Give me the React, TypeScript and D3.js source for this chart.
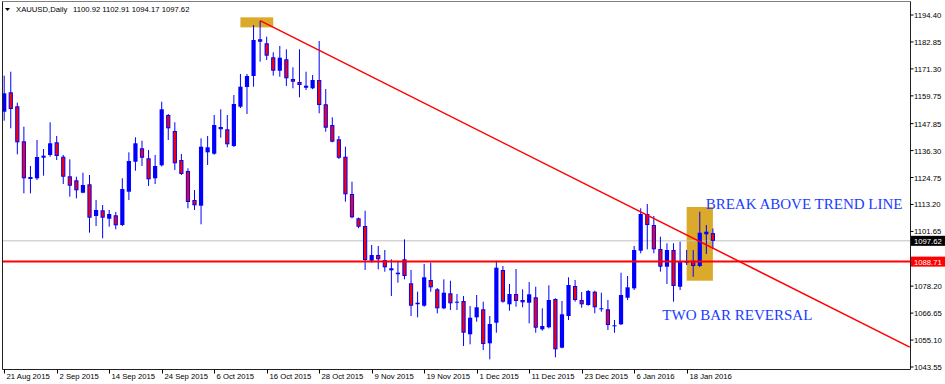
import React from "react";
import * as d3 from "d3";

const opens = [1152.96,1161.27,1155.27,1140.27,1124.97,1124.42,1133.24,1134.40,1139.84,1133.67,1125.27,1123.56,1118.24,1121.84,1108.26,1110.70,1107.10,1108.56,1104.40,1118.67,1131.53,1137.27,1132.99,1124.42,1129.99,1151.54,1144.69,1132.26,1127.54,1115.12,1112.67,1135.56,1134.96,1146.40,1145.42,1138.26,1155.10,1163.54,1168.26,1183.99,1182.27,1176.27,1170.53,1175.42,1166.97,1165.69,1164.10,1162.99,1166.54,1156.13,1147.26,1141.13,1133.67,1117.69,1107.27,1103.97,1089.10,1091.54,1089.40,1085.84,1083.96,1089.70,1079.42,1071.10,1069.82,1080.83,1076.84,1068.70,1075.13,1071.10,1071.83,1057.56,1064.84,1068.27,1053.70,1062.53,1085.12,1070.42,1074.83,1072.26,1071.10,1073.42,1059.70,1060.56,1072.69,1051.82,1065.40,1078.26,1072.26,1070.12,1075.82,1068.27,1068.27,1060.99,1061.84,1073.24,1077.27,1093.39,1109.12,1104.40,1094.12,1086.53,1093.69,1077.96,1088.24,1089.10,1086.83,1100.42,1100.92];
const highs = [1168.39,1170.10,1156.82,1146.53,1129.69,1140.83,1136.97,1148.42,1142.54,1134.40,1132.56,1125.10,1126.82,1125.83,1115.12,1112.97,1110.83,1109.97,1124.42,1135.56,1141.99,1140.53,1136.54,1134.40,1157.24,1151.97,1148.42,1134.83,1128.70,1119.40,1141.56,1142.54,1151.54,1153.99,1151.54,1160.12,1169.12,1169.12,1190.12,1191.96,1185.10,1178.42,1181.12,1179.70,1171.99,1179.70,1170.10,1168.69,1183.26,1162.69,1150.56,1142.54,1137.96,1122.96,1107.60,1110.53,1095.83,1095.40,1093.69,1089.70,1088.67,1098.27,1085.12,1075.82,1087.69,1088.24,1077.40,1081.13,1080.53,1074.83,1073.97,1069.69,1074.40,1071.53,1065.40,1089.10,1086.83,1079.12,1085.54,1076.84,1079.97,1077.96,1068.70,1078.56,1072.99,1071.83,1081.99,1080.83,1075.69,1076.54,1076.24,1075.39,1072.26,1063.69,1083.96,1082.54,1095.40,1111.56,1113.40,1108.26,1099.39,1096.56,1096.56,1097.24,1093.69,1093.69,1110.10,1104.40,1102.91];
const lows = [1149.10,1145.84,1134.70,1117.99,1117.99,1123.69,1125.53,1133.67,1132.26,1121.97,1116.53,1115.84,1117.99,1101.10,1103.97,1098.70,1103.67,1102.56,1103.97,1115.12,1127.67,1129.69,1121.12,1121.97,1129.50,1140.83,1127.97,1125.83,1111.56,1110.83,1104.70,1130.12,1134.50,1141.82,1137.70,1137.80,1154.54,1151.97,1163.67,1174.39,1175.12,1168.39,1167.96,1163.97,1162.99,1159.13,1162.26,1162.60,1152.27,1144.39,1139.84,1132.69,1114.39,1107.27,1102.99,1085.12,1088.24,1085.42,1084.39,1073.97,1079.67,1081.13,1065.40,1064.84,1069.39,1075.82,1066.56,1068.30,1067.97,1067.97,1052.54,1053.27,1062.96,1050.83,1046.84,1058.24,1071.10,1067.67,1069.39,1069.13,1062.27,1058.24,1059.10,1060.10,1047.70,1051.56,1063.69,1071.53,1068.96,1069.82,1066.56,1067.24,1059.40,1058.24,1061.54,1072.26,1076.54,1092.27,1093.99,1092.27,1084.39,1079.12,1071.53,1076.54,1087.26,1082.24,1086.40,1091.97,1094.17];
const closes = [1160.84,1154.12,1139.84,1124.42,1124.12,1133.54,1134.10,1139.42,1133.97,1125.10,1121.24,1119.27,1121.54,1107.53,1110.83,1107.53,1109.12,1104.27,1119.83,1131.83,1139.42,1133.24,1123.99,1129.69,1153.99,1145.84,1130.84,1126.26,1114.26,1112.84,1137.96,1137.70,1147.26,1145.42,1138.99,1156.26,1163.67,1168.26,1183.69,1182.96,1176.96,1170.53,1176.10,1167.27,1165.82,1164.40,1163.24,1166.54,1155.83,1146.10,1140.10,1133.24,1117.56,1107.70,1103.67,1089.40,1091.54,1089.70,1086.27,1084.99,1083.53,1082.54,1069.82,1070.54,1081.99,1077.70,1068.70,1075.39,1070.84,1071.53,1058.24,1064.67,1069.13,1053.40,1061.97,1086.10,1071.53,1074.83,1071.83,1071.27,1074.70,1060.39,1061.12,1072.26,1051.13,1066.13,1078.69,1072.26,1070.42,1076.12,1069.13,1068.70,1061.54,1061.42,1074.40,1077.70,1093.69,1109.12,1104.40,1093.99,1086.53,1093.69,1078.26,1088.67,1088.97,1086.83,1101.10,1101.53,1097.62];

const dateTickLabels = ["21 Aug 2015","2 Sep 2015","14 Sep 2015","24 Sep 2015","6 Oct 2015","16 Oct 2015","28 Oct 2015","9 Nov 2015","19 Nov 2015","1 Dec 2015","11 Dec 2015","23 Dec 2015","6 Jan 2016","18 Jan 2016"];
const barsPerDateTick = 8;
const priceTicks = [1194.40,1182.85,1171.30,1159.75,1147.85,1136.30,1124.75,1113.20,1101.65,1078.20,1066.65,1055.10,1043.55];

const symbolTitle = "XAUUSD,Daily";
const lastBar = "1100.92 1102.91 1094.17 1097.62";
const bidPrice = 1097.62;
const supportLevel = 1088.71;
const trendLine = [{ i: 39, p: 1191.96 }, { i: 138, p: 1052.1 }];
const boxes = [
  { i0: 36, i1: 41, top: 1193.4, bottom: 1189.1 },
  { i0: 104, i1: 108, top: 1112.12, bottom: 1080.53 },
];
const notes = [
  { text: "BREAK ABOVE TREND LINE", i: 106.9, p: 1111.2 },
  { text: "TWO BAR REVERSAL", i: 100.3, p: 1063.7 },
];

const W = 945, H = 384;
const plotL = 2.5, plotR = 910.5, plotT = 1.5, plotB = 369.5;
const axisFont = "Liberation Sans, Arial, sans-serif";

export default function App() {
  const n = closes.length;
  const x = d3.scaleLinear().domain([0, n - 1]).range([4.2, 712.9]);
  const y = d3.scaleLinear().domain([1043.55, 1194.4]).range([367, 15]);
  const bw = 4.2;
  const blue = "#0000ff";
  const red = "#ff0000";
  const line = d3.line<{ i: number; p: number }>().x(d => x(d.i)).y(d => y(d.p));

  return (
    <svg width={W} height={H} style={{ position: "absolute", left: 0, top: 0, background: "#fff" }}>
      <defs>
        <clipPath id="plot">
          <rect x={plotL} y={plotT} width={plotR - plotL} height={plotB - plotT} />
        </clipPath>
      </defs>
      <rect x={0} y={0} width={W} height={H} fill="#fff" />
      <g clipPath="url(#plot)">
        {boxes.map((b, k) => (
          <rect key={k} x={x(b.i0)} y={y(b.top)} width={x(b.i1) - x(b.i0)} height={y(b.bottom) - y(b.top)} fill="#daa520" opacity={0.95} />
        ))}
        <line x1={plotL} x2={plotR} y1={y(bidPrice)} y2={y(bidPrice)} stroke="#c0c0c0" strokeWidth={1} />
        {closes.map((c, i) => {
          const o = opens[i];
          const up = c >= o;
          const cx = x(i);
          const top = y(Math.max(o, c));
          const bot = y(Math.min(o, c));
          const h = Math.max(bot - top, 1);
          return (
            <g key={i}>
              <line x1={cx} x2={cx} y1={y(highs[i])} y2={y(lows[i])} stroke={blue} strokeWidth={1} />
              {up ? (
                <rect x={cx - bw / 2} y={top} width={bw} height={h} fill={blue} />
              ) : (
                <rect x={cx - bw / 2 + 0.5} y={top + 0.5} width={bw - 1} height={Math.max(h - 1, 0.5)} fill={red} stroke={blue} strokeWidth={1} />
              )}
            </g>
          );
        })}
        <line x1={plotL} x2={plotR} y1={y(supportLevel)} y2={y(supportLevel)} stroke={red} strokeWidth={2} />
        <path d={line(trendLine) || ""} stroke={red} strokeWidth={1.5} fill="none" />
        {notes.map((t, k) => (
          <text key={k} x={x(t.i)} y={y(t.p)} fill="#1a3cff" fontFamily="Liberation Serif, Times New Roman, serif" fontSize={15}>{t.text}</text>
        ))}
      </g>
      <line x1={plotL} x2={plotR} y1={plotT} y2={plotT} stroke="#808080" />
      <line x1={plotL} x2={plotL} y1={plotT} y2={plotB} stroke="#202020" />
      <line x1={plotL} x2={plotR} y1={plotB} y2={plotB} stroke="#202020" />
      <line x1={plotR} x2={plotR} y1={plotT} y2={plotB} stroke="#202020" />
      <path d="M5,8 L10,8 L7.5,11 Z" fill="#000" />
      <text x={16} y={12} fontFamily={axisFont} fontSize={7.7} fill="#000">{symbolTitle}</text>
      <text x={73} y={12} fontFamily={axisFont} fontSize={7.7} fill="#000">{lastBar}</text>
      {priceTicks.map((p, k) => (
        <g key={k}>
          <line x1={plotR} x2={plotR + 3} y1={y(p)} y2={y(p)} stroke="#000" />
          <text x={914} y={y(p) + 3} fontFamily={axisFont} fontSize={7.7} fill="#000">{p.toFixed(2)}</text>
        </g>
      ))}
      <rect x={911} y={y(bidPrice) - 5} width={34} height={10} fill="#000" />
      <text x={914} y={y(bidPrice) + 3} fontFamily={axisFont} fontSize={7.7} fill="#fff">{bidPrice.toFixed(2)}</text>
      <rect x={911} y={y(supportLevel) - 5} width={34} height={10} fill={red} />
      <text x={914} y={y(supportLevel) + 3} fontFamily={axisFont} fontSize={7.7} fill="#fff">{supportLevel.toFixed(2)}</text>
      {dateTickLabels.map((lab, k) => {
        const tx = Math.round(x(k * barsPerDateTick)) + 0.5;
        return (
          <g key={k}>
            <line x1={tx} x2={tx} y1={plotB} y2={plotB + 4} stroke="#000" />
            <text x={tx + 2} y={379} fontFamily={axisFont} fontSize={7.7} fill="#000">{lab}</text>
          </g>
        );
      })}
    </svg>
  );
}
